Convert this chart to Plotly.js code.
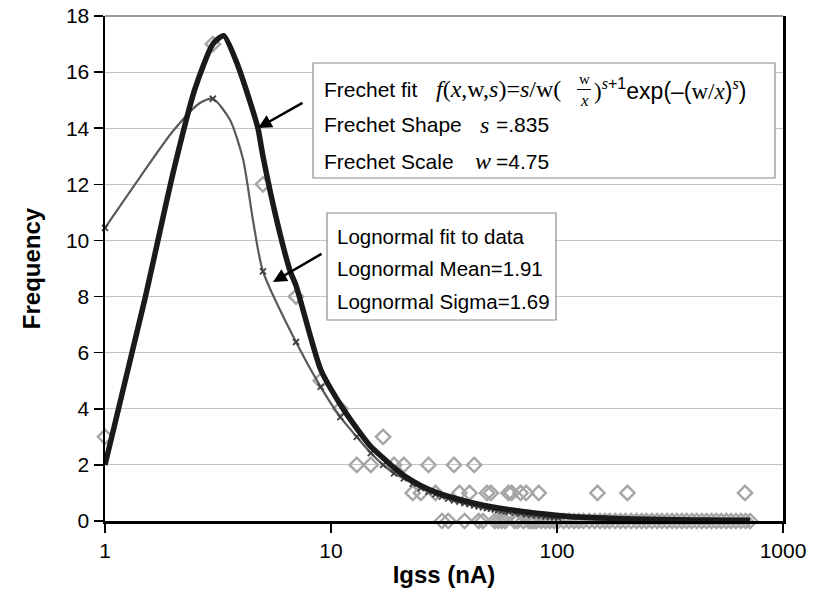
<!DOCTYPE html>
<html>
<head>
<meta charset="utf-8">
<script src="https://cdn.plot.ly/plotly-3.0.1.min.js"></script>
<style>body{margin:0;background:#fff}#chart{width:822px;height:595px}</style>
</head>
<body>
<div id="chart"></div>
<script>
// Observed histogram frequencies (bin centres, nA)
const obsX = [1,3,5,7,9,11,13,15,17,19,21,23,25,27,29,35,37,41,43,49,51,61,63,69,73,83,151,205,679,
  31,33,39,45,47,53,55,57,59,65,67,71,75,77,79,81,85,89,93,97,101,107,113,119,125,131,139,147,155,163,171,181,191,201,213,225,237,249,263,277,291,307,323,339,357,375,395,415,437,459,483,507,533,561,589,619,651,683,715];
const obsY = [3,17,12,8,5,4,2,2,3,2,2,1,1,2,1,2,1,1,2,1,1,1,1,1,1,1,1,1,1,
  0,0,0,0,0,0,0,0,0,0,0,0,0,0,0,0,0,0,0,0,0,0,0,0,0,0,0,0,0,0,0,0,0,0,0,0,0,0,0,0,0,0,0,0,0,0,0,0,0,0,0,0,0,0,0,0,0,0,0];

// Lognormal fit curve
const logX = [1,1.43,2,2.63,3,3.57,4.08,4.52,5,7,9,11,13,15,17,19,21,23,25,27,29,31,35,41,51,61,71,81,101,151,201,301,451,715];
const logY = [10.45,12.26,13.9,14.9,15.05,14.3,12.9,10.7,8.9,6.38,4.78,3.7,3.0,2.42,2.0,1.7,1.52,1.33,1.17,1.05,0.95,0.87,0.74,0.6,0.44,0.33,0.26,0.2,0.12,0.05,0.03,0.01,0.005,0.0];
// Lognormal fit evaluated at the bin centres (marker positions)
const logMX = [1,3,5,7,9,11,13,15,17,19,21,23,25,27,29,31,33,35,37,39,41,43,45,47,49,51,53,55,57,59,61,65,69,73,77,81,85,89,93,97,101];
const logMY = [10.45,15.05,8.9,6.38,4.78,3.7,3.0,2.42,2.0,1.7,1.52,1.33,1.17,1.05,0.95,0.87,0.8,0.74,0.69,0.64,0.6,0.56,0.52,0.49,0.46,0.44,0.41,0.39,0.37,0.35,0.33,0.3,0.27,0.24,0.22,0.2,0.18,0.16,0.15,0.13,0.12];

// Frechet fit curve
const frX = [1,1.5,2,2.5,3,3.35,3.8,4.4,4.75,5,5.8,6.6,7,9,11,13,15,17,19,21,23,25,29,35,41,51,63,81,101,126,171,221,301,401,551,715];
const frY = [2.0,7.9,12.4,15.4,17.0,17.3,16.4,14.9,14.0,13.0,10.6,8.9,8.4,5.4,4.15,3.3,2.65,2.25,1.9,1.62,1.42,1.26,1.03,0.82,0.67,0.51,0.39,0.28,0.2,0.14,0.1,0.07,0.05,0.04,0.03,0.03];

const xTicks = [1,10,100,1000];
const xTickText = ['1','10','100','1000'];

const SANS = 'Liberation Sans, Arial, sans-serif';
const SERIF = 'Liberation Serif, Times New Roman, serif';

// plot area in pixels: left 105, right 783, top 16, bottom 521
const L=105, R=783, T=16, B=521;
const px = p => (p-L)/(R-L);
const py = p => (B-p)/(B-T);

const traces = [
  {x: obsX, y: obsY, type:'scatter', mode:'markers', cliponaxis:false,
   marker:{symbol:'diamond-open', size:11, color:'#a6a6a6', line:{width:2.4, color:'#a6a6a6'}},
   hoverinfo:'skip', showlegend:false},
  {x: logX, y: logY, type:'scatter', mode:'lines',
   line:{color:'#5a5a5a', width:2.2, shape:'spline', smoothing:0.7},
   hoverinfo:'skip', showlegend:false},
  {x: logMX, y: logMY, type:'scatter', mode:'markers', cliponaxis:false,
   marker:{symbol:'x-thin', size:6, color:'#404040', line:{width:1.8, color:'#404040'}},
   hoverinfo:'skip', showlegend:false},
  {x: frX, y: frY, type:'scatter', mode:'lines',
   line:{color:'#1a1a1a', width:5.5, shape:'spline', smoothing:0.6},
   hoverinfo:'skip', showlegend:false}
];

const fs = 21;
const ser = s => '<span style="font-family:'+SERIF+'">'+s+'</span>';

const ann = [];
function txt(x, y, text, size, extra){
  ann.push(Object.assign({xref:'paper', yref:'paper', x:px(x), y:py(y), text:text, showarrow:false,
    xanchor:'left', yanchor:'middle', font:{family:SANS, size:size||fs, color:'#000'}}, extra||{}));
}
// Box 1 text
txt(322, 89, 'Frechet fit');
txt(434, 89, '<i>f</i>(<i>x</i>,w,<i>s</i>)=<i>s</i>/w(', 24, {font:{family:SERIF, size:24, color:'#000'}});
txt(584, 79, 'w', 15, {xanchor:'center', font:{family:SERIF, size:15, color:'#000'}});
txt(584, 100, '<i>x</i>', 17, {xanchor:'center', font:{family:SERIF, size:17, color:'#000'}});
txt(592, 89, ser(')') + '<sup>' + ser('<i>s</i>') + '+1</sup>exp(\u2013(' + ser('w/<i>x</i>') + ')<sup>' + ser('<i>s</i>') + '</sup>)', 23);
txt(322, 125, 'Frechet Shape');
txt(478, 125, '<i>s</i>', 24, {font:{family:SERIF, size:24, color:'#000'}});
txt(494, 125, '=.835');
txt(322, 161, 'Frechet Scale');
txt(473, 161, '<i>w</i>', 24, {font:{family:SERIF, size:24, color:'#000'}});
txt(494, 161, '=4.75');
// Box 2 text
txt(335, 236, 'Lognormal fit to data', 20.5);
txt(335, 268, 'Lognormal Mean=1.91', 20.5);
txt(335, 301, 'Lognormal Sigma=1.69', 20.5);
// arrows
ann.push({xref:'paper', yref:'paper', x:px(258), y:py(128), ax:46, ay:-26, text:'', showarrow:true,
  arrowhead:2, arrowsize:1.1, arrowwidth:2.5, arrowcolor:'#000'});
ann.push({xref:'paper', yref:'paper', x:px(273), y:py(282), ax:50, ay:-29, text:'', showarrow:true,
  arrowhead:2, arrowsize:1.1, arrowwidth:2.5, arrowcolor:'#000'});

const shapes = [
  {type:'rect', xref:'paper', yref:'paper', x0:px(313), x1:px(775), y0:py(63), y1:py(178),
   line:{color:'#8a8a8a', width:1.2}, fillcolor:'#fff', layer:'above'},
  {type:'rect', xref:'paper', yref:'paper', x0:px(327), x1:px(556), y0:py(213), y1:py(320),
   line:{color:'#8a8a8a', width:1.2}, fillcolor:'#fff', layer:'above'},
  {type:'line', xref:'paper', yref:'paper', x0:px(577), x1:px(591), y0:py(89.5), y1:py(89.5),
   line:{color:'#000', width:1}, layer:'above'},
  {type:'line', xref:'paper', yref:'paper', x0:0, x1:1, y0:1, y1:1,
   line:{color:'#7a7a7a', width:1.5}, layer:'below'}
];

const layout = {
  width:822, height:595,
  margin:{l:L, r:822-R, t:T, b:595-B},
  paper_bgcolor:'#fff', plot_bgcolor:'#fff',
  font:{family:SANS, size:21, color:'#000'},
  xaxis:{type:'log', range:[0,3], tickvals:xTicks, ticktext:xTickText,
    ticks:'outside', ticklen:9, tickwidth:1.5, tickcolor:'#000',
    showline:true, linecolor:'#000', linewidth:2.5, showgrid:false, zeroline:false,
    tickfont:{family:SANS, size:21},
    title:{text:'<b>Igss (nA)</b>', font:{family:SANS, size:24}, standoff:6}},
  yaxis:{range:[0,18], dtick:2, tick0:0,
    ticks:'outside', ticklen:9, tickwidth:1.5, tickcolor:'#000',
    showline:true, linecolor:'#000', linewidth:2.5, mirror:true,
    showgrid:true, gridcolor:'#c4c4c4', gridwidth:1.2, zeroline:false,
    tickfont:{family:SANS, size:21},
    title:{text:'<b>Frequency</b>', font:{family:SANS, size:24}, standoff:19}},
  annotations: ann,
  shapes: shapes
};

Plotly.newPlot('chart', traces, layout, {displayModeBar:false, staticPlot:true});
</script>
</body>
</html>
